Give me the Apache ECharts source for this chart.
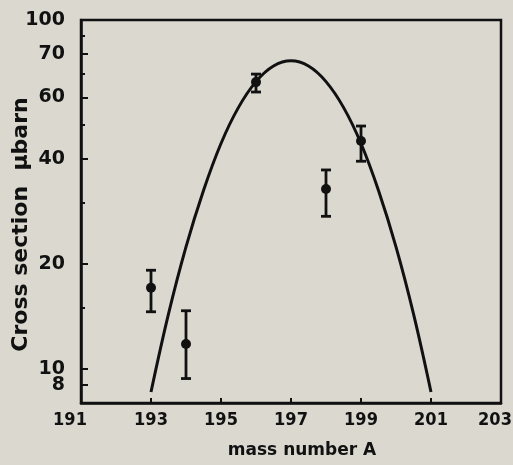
<!DOCTYPE html>
<html><head><meta charset="utf-8">
<script src="https://cdn.jsdelivr.net/npm/echarts@6/dist/echarts.min.js"></script>
<style>html,body{margin:0;padding:0;background:#dbd8d0}#c{width:513px;height:465px}</style>
</head><body><div id="c"></div>
<script>
// mass numbers of measured points
const massNumbers = [193, 194, 196, 198, 199];
const crossSection = [17.1, 11.8, 66.4, 32.8, 45.0];
const errLow = [14.6, 9.4, 62.2, 27.4, 39.4];
const errHigh = [19.2, 14.7, 70.0, 37.2, 49.7];
// fitted curve
const curveX = [193, 193.5, 194, 194.5, 195, 195.5, 196, 196.5, 197, 197.5, 198, 198.5, 199, 199.5, 200, 200.5, 201];
const curveY = [8.6, 14.4, 22.4, 32.5, 44.3, 56.2, 66.6, 73.8, 76.4, 73.8, 66.6, 56.2, 44.3, 32.5, 22.4, 14.4, 8.6];
// axis ticks
const xTickLabels = [191, 193, 195, 197, 199, 201, 203];
const xTickMarks = [193, 195, 197, 199, 201];
const yTickValues = [10, 20, 40, 60, 80, 100];
const yTickLabels = ['10', '20', '40', '60', '70', '100'];
const yLowTickValues = [9];
const yLowTickLabels = ['8'];
const yMinorTicks = [15, 30, 50, 70, 90];

const ink = '#111';
const labelOf = (vals, labels) => v => { const i = vals.findIndex(t => Math.abs(t - v) < 1e-6); return i >= 0 ? labels[i] : ''; };
const yLabelStyle = {color: ink, fontFamily: 'DejaVu Sans', fontWeight: 'bold', fontSize: 19, margin: 16,
  interval: 0, hideOverlap: false, showMinLabel: true, showMaxLabel: true};
const xFont = {color: ink, fontFamily: 'DejaVu Sans Condensed', fontWeight: 'bold', fontSize: 18};
const chart = echarts.init(document.getElementById('c'));
chart.setOption({
  backgroundColor: '#dbd8d0',
  animation: false,
  grid: {left: 81, right: 12, top: 20, bottom: 62, show: true, borderColor: ink, borderWidth: 2.5,
    backgroundColor: 'transparent', containLabel: false, outerBoundsMode: 'none'},
  xAxis: {
    type: 'value', min: 191, max: 203,
    name: 'mass number A', nameLocation: 'middle', nameGap: 39,
    nameTextStyle: {color: ink, fontFamily: 'DejaVu Sans', fontSize: 17, fontWeight: 'bold', padding: [0, 0, 0, 22]},
    axisLine: {show: true, lineStyle: {color: ink, width: 2.5}},
    axisTick: {show: true, inside: true, length: 5, customValues: xTickMarks, interval: 0, lineStyle: {color: ink, width: 2}},
    axisLabel: Object.assign({customValues: xTickLabels, margin: 8,
      interval: 0, hideOverlap: false, showMinLabel: true, showMaxLabel: true,
      formatter: v => v === xTickLabels[0] ? '{l|' + v + '}' : (v === xTickLabels[xTickLabels.length - 1] ? '{r|' + v + '}' : String(v)),
      rich: {l: Object.assign({padding: [0, 22, 0, 0]}, xFont), r: Object.assign({padding: [0, 12, 0, 0]}, xFont)}}, xFont),
    splitLine: {show: false}
  },
  yAxis: [{
    type: 'log', logBase: 10, min: 8, max: 100,
    name: 'Cross section  \u00b5barn', nameLocation: 'middle', nameGap: 49, nameRotate: 90, nameMoveOverlap: false,
    nameTextStyle: {color: ink, fontFamily: 'DejaVu Sans', fontSize: 22, fontWeight: 'bold', padding: [0, 26, 0, 0]},
    axisLine: {show: true, lineStyle: {color: ink, width: 2.5}},
    axisTick: {show: true, inside: true, length: 7, customValues: yTickValues, interval: 0, lineStyle: {color: ink, width: 2}},
    axisLabel: Object.assign({customValues: yTickValues, formatter: labelOf(yTickValues, yTickLabels)}, yLabelStyle),
    splitLine: {show: false}, minorTick: {show: false}
  }, {
    type: 'log', logBase: 10, min: 8, max: 100, position: 'left', offset: 0,
    axisLine: {show: false},
    axisTick: {show: true, inside: true, length: 7, customValues: yLowTickValues, interval: 0, lineStyle: {color: ink, width: 2}},
    axisLabel: Object.assign({customValues: yLowTickValues, formatter: labelOf(yLowTickValues, yLowTickLabels)}, yLabelStyle),
    splitLine: {show: false}
  }, {
    type: 'log', logBase: 10, min: 8, max: 100, position: 'left', offset: 0,
    axisLine: {show: false},
    axisTick: {show: true, inside: true, length: 4, customValues: yMinorTicks, interval: 0, lineStyle: {color: ink, width: 2}},
    axisLabel: {show: false}, splitLine: {show: false}
  }],
  series: [{
    type: 'line', data: curveX.map((x, i) => [x, curveY[i]]), smooth: 0.4, showSymbol: false,
    lineStyle: {color: ink, width: 3}, z: 2
  }, {
    type: 'custom', data: massNumbers.map((x, i) => [x, errLow[i], errHigh[i]]), z: 3,
    renderItem: function (params, api) {
      const lo = api.coord([api.value(0), api.value(1)]);
      const hi = api.coord([api.value(0), api.value(2)]);
      const w = 5;
      const st = {stroke: ink, lineWidth: 2.8};
      return {type: 'group', children: [
        {type: 'line', shape: {x1: lo[0], y1: lo[1], x2: hi[0], y2: hi[1]}, style: st},
        {type: 'line', shape: {x1: lo[0] - w, y1: lo[1], x2: lo[0] + w, y2: lo[1]}, style: st},
        {type: 'line', shape: {x1: hi[0] - w, y1: hi[1], x2: hi[0] + w, y2: hi[1]}, style: st}
      ]};
    }
  }, {
    type: 'scatter', data: massNumbers.map((x, i) => [x, crossSection[i]]), symbol: 'circle', symbolSize: 10,
    itemStyle: {color: ink, opacity: 1}, z: 4
  }]
});
</script></body></html>
